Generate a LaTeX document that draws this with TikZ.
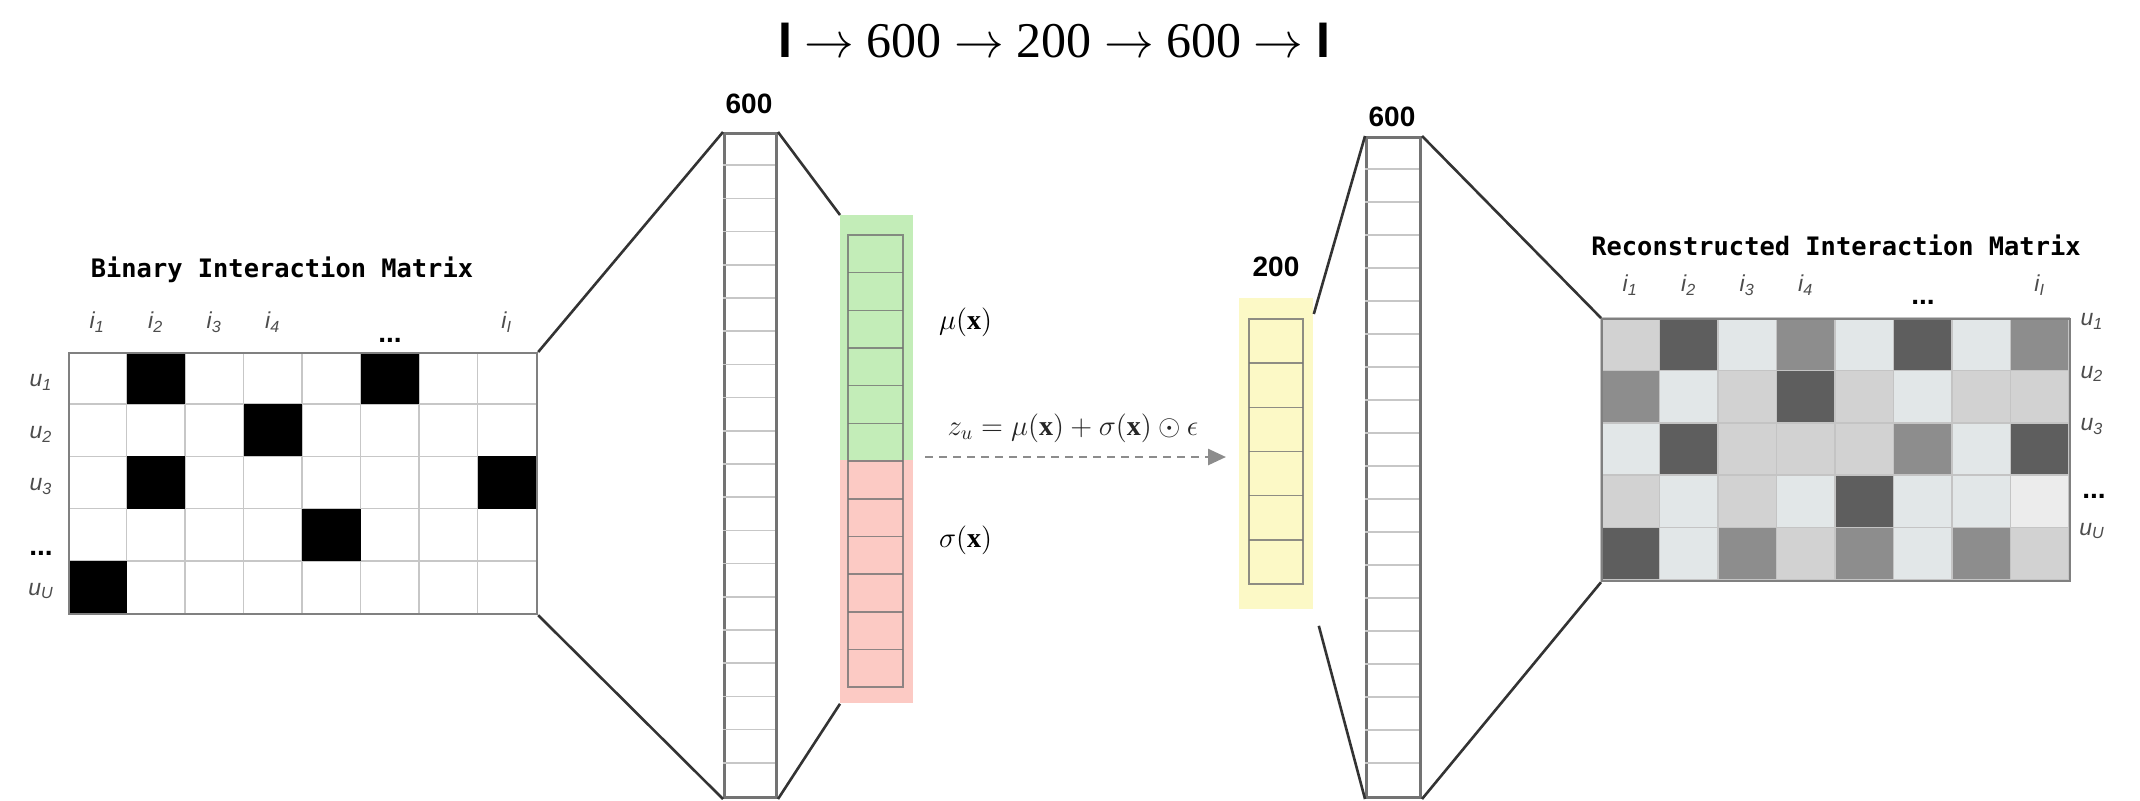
\documentclass[tikz,border=0pt]{standalone}
\usepackage{amsmath}
\usepackage{fontspec}
\setmainfont{Liberation Serif}
\newfontfamily\sanslab{Liberation Sans}
\newfontfamily\mattitlefont{DejaVu Sans Mono}
\usetikzlibrary{arrows.meta}

\definecolor{cellgrid}{HTML}{C4C4C4}
\definecolor{mugreen}{HTML}{C3EDB8}
\definecolor{sigred}{HTML}{FCCAC4}
\definecolor{zyellow}{HTML}{FCF9C6}
\definecolor{gd}{HTML}{5E5E5E}
\definecolor{gm}{HTML}{8D8D8D}
\definecolor{gl}{HTML}{D2D2D2}
\definecolor{gv}{HTML}{E2E7E8}
\definecolor{gp}{HTML}{ECECEC}

\begin{document}
\begin{tikzpicture}[x=0.5pt, y=-0.5pt,
  funnel/.style={black!80, line width=1.3pt},
  layer/.style={draw=black!55, line width=1.5pt, fill=white, inner sep=0pt, anchor=north west},
  cellline/.style={black!22, line width=0.8pt},
  inner/.style={black!55, line width=0.8pt, opacity=0.8},
  matframe/.style={draw=black!50, line width=1.1pt, inner sep=0pt, anchor=north west},
  mattitle/.style={font=\mattitlefont\bfseries\fontsize{12.7}{15}\selectfont},
  idx/.style={font=\sanslab\itshape\fontsize{11.5}{13}\selectfont, text=black!70, inner sep=0pt},
  dims/.style={font=\sanslab\bfseries\fontsize{14}{16}\selectfont, inner sep=0pt},
  dotlab/.style={font=\sanslab\bfseries\fontsize{14}{16}\selectfont, inner sep=0pt},
  sample/.style={black!45, line width=1.3pt, dashed, dash pattern=on 4pt off 3pt, -{Triangle[length=9pt,width=8pt]}}]
\useasboundingbox (0,0) rectangle (2140,800);

\node[font=\fontsize{25}{30}\selectfont] (arch) at (1054,41)
  {{\sanslab\bfseries I} $\to$ 600 $\to$ 200 $\to$ 600 $\to$ {\sanslab\bfseries I}};

% input matrix
\foreach \c in {1,...,7} \draw[cellline] (68+\c*58.5,352) -- ++(0,261);
\foreach \r in {1,...,4} \draw[cellline] (68,352+\r*52.2) -- ++(468,0);
\foreach \c/\r in {2/1,6/1,4/2,2/3,8/3,5/4,1/5}
  \fill (68+\c*58.5-58.5,352+\r*52.2-52.2) rectangle ++(58.5,52.2);
\node[matframe, minimum width=234pt, minimum height=130.5pt] (inmat) at (68,352) {};
\node[mattitle] (intitle) at (282,270) {Binary Interaction Matrix};
\foreach \c/\t in {1/1,2/2,3/3,4/4,8/I}
  \node[idx] (inc\c) at (68+\c*58.5-29.25,322) {i\textsubscript{\t}};
\node[dotlab] (incdots) at (390,340) {...};
\foreach \r/\t in {1/1,2/2,3/3,5/U}
  \node[idx] (inr\r) at (41,352+\r*52.2-22) {u\textsubscript{\t}};
\node[dotlab] (inrdots) at (41,553) {...};

% encoder layer
\node[layer, minimum width=26pt, minimum height=332pt] (enc) at (723,132) {};
\foreach \k in {1,...,19} \draw[cellline] (723,132+\k*33.2) -- ++(52,0);
\node[dims] (enclab) at (749,104) {600};
\draw[funnel] (inmat.north east) -- (enc.north west) (inmat.south east) -- (enc.south west);

% mu and sigma
\node[fill=mugreen, inner sep=0pt, anchor=north west, minimum width=36.5pt, minimum height=122.5pt] (mubox) at (840,215) {};
\node[fill=sigred, inner sep=0pt, anchor=north west, minimum width=36.5pt, minimum height=121.5pt] (sigbox) at (840,460) {};
\draw[inner] (848,235) rectangle (903,687);
\foreach \k in {1,...,11} \draw[inner] (848,235+\k*37.67) -- ++(55,0);
\draw[funnel] (enc.north east) -- (mubox.north west) (enc.south east) -- (sigbox.south west);
\node[anchor=west, font=\fontsize{14}{16}\selectfont] (mulab) at (932,322) {$\mu(\mathbf{x})$};
\node[anchor=west, font=\fontsize{14}{16}\selectfont] (siglab) at (932,540) {$\sigma(\mathbf{x})$};

% sampling
\coordinate (zfrom) at (925,457);
\coordinate (zto) at (1226,457);
\draw[sample] (zfrom) -- (zto);
\node[font=\fontsize{14}{16}\selectfont, text=black!85] (reparam) at (1073,428)
  {$z_u = \mu(\mathbf{x}) + \sigma(\mathbf{x}) \odot \epsilon$};

% latent
\node[fill=zyellow, inner sep=0pt, anchor=north west, minimum width=37pt, minimum height=155.5pt] (zbox) at (1239,298) {};
\draw[inner] (1249,319) rectangle (1303,584);
\foreach \k in {1,...,5} \draw[inner] (1249,319+\k*44.17) -- ++(54,0);
\node[dims] (zlab) at (1276,267) {200};

% decoder layer
\node[layer, minimum width=27pt, minimum height=330pt] (dec) at (1365,136) {};
\foreach \k in {1,...,19} \draw[cellline] (1365,136+\k*33) -- ++(54,0);
\node[dims] (declab) at (1392,117) {600};
\draw[funnel] ([yshift=-8pt]zbox.north east) -- (dec.north west)
  ([xshift=2.5pt,yshift=-8pt]zbox.south east) -- (dec.south west);

% output matrix
\foreach \r/\row in {1/{gl,gd,gv,gm,gv,gd,gv,gm}, 2/{gm,gv,gl,gd,gl,gv,gl,gl},
    3/{gv,gd,gl,gl,gl,gm,gv,gd}, 4/{gl,gv,gl,gv,gd,gv,gv,gp}, 5/{gd,gv,gm,gl,gm,gv,gm,gl}}
  \foreach \g [count=\c] in \row
    \filldraw[fill=\g, draw=cellgrid, line width=0.8pt] (1601+\c*58.5-58.5,318+\r*52.4-52.4) rectangle ++(58.5,52.4);
\node[matframe, minimum width=234pt, minimum height=131pt] (outmat) at (1601,318) {};
\draw[funnel] (dec.north east) -- (outmat.north west) (dec.south east) -- (outmat.south west);
\node[mattitle] (outtitle) at (1836,245) {Reconstructed Interaction Matrix};
\foreach \c/\t in {1/1,2/2,3/3,4/4,8/I}
  \node[idx] (outc\c) at (1601+\c*58.5-29.25,285) {i\textsubscript{\t}};
\node[dotlab] (outcdots) at (1923,302) {...};
\foreach \r/\t in {1/1,2/2,3/3,5/U}
  \node[idx] (outr\r) at (2092,318+\r*52.4-49) {u\textsubscript{\t}};
\node[dotlab] (outrdots) at (2094,496) {...};
\end{tikzpicture}
\end{document}
